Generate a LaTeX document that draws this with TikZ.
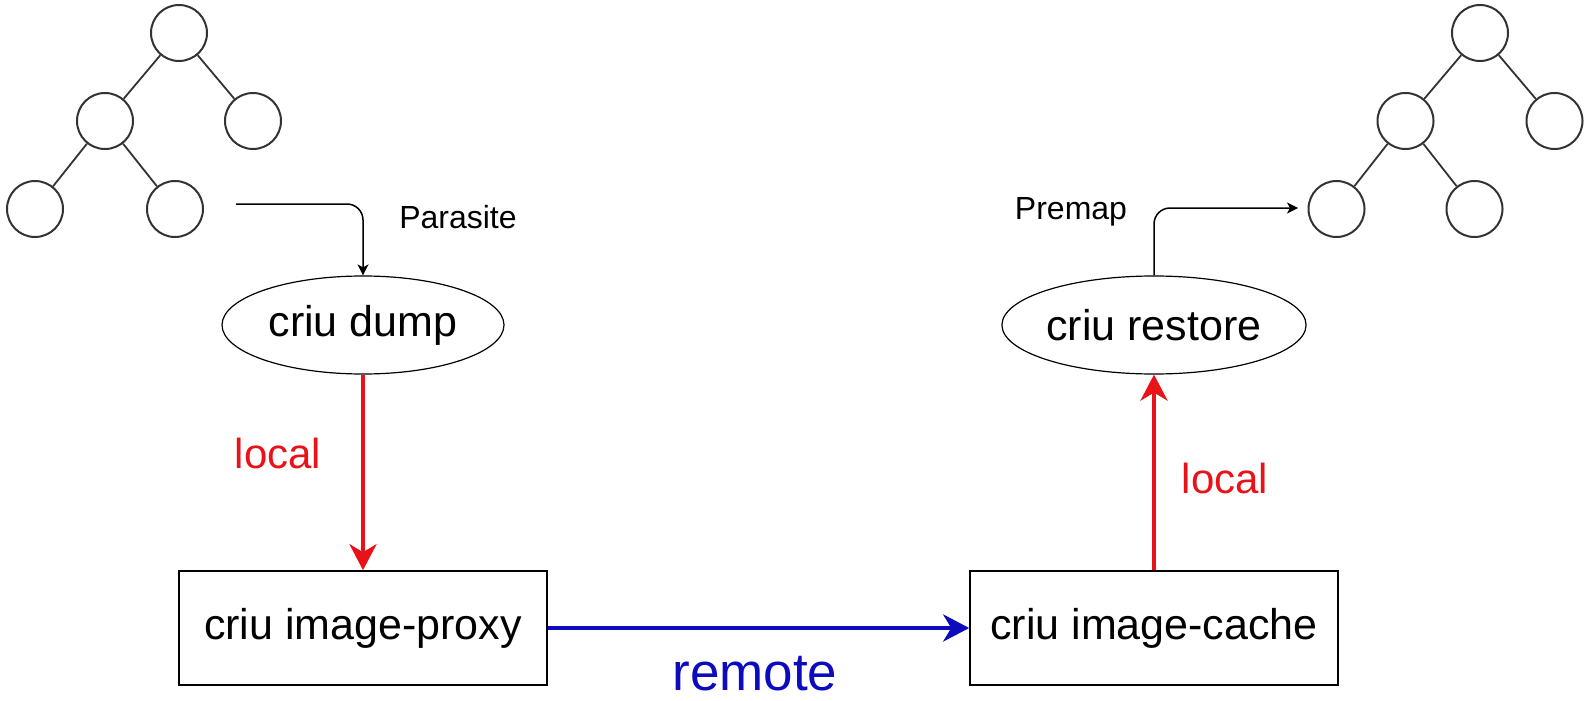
\documentclass[tikz,border=0pt]{standalone}
\usepackage{fontspec}
\setmainfont{Liberation Sans}
\usetikzlibrary{shapes.geometric,arrows.meta}
\definecolor{localred}{RGB}{232,18,24}
\definecolor{remoteblue}{RGB}{12,12,190}
\tikzset{
  tnode/.style={circle,draw=black!80,line width=1pt,minimum size=28pt,inner sep=0pt},
  proc/.style={ellipse,draw,line width=0.6pt,minimum width=141pt,minimum height=49pt,inner sep=0pt,font=\fontsize{21.5}{26}\selectfont},
  srv/.style={rectangle,draw,line width=0.8pt,minimum width=184pt,minimum height=57pt,inner sep=0pt,font=\fontsize{21.5}{26}\selectfont},
  small/.style={font=\fontsize{16}{19}\selectfont},
  redarr/.style={localred,line width=2.2pt,-{Stealth[length=13pt,width=13.5pt,inset=4pt]}},
  bluearr/.style={remoteblue,line width=2.2pt,-{Stealth[length=13pt,width=13.5pt,inset=4pt]}},
  thinarr/.style={line width=0.75pt,rounded corners=8pt,-{Stealth[length=5.5pt,width=5.5pt,inset=1.5pt]}}
}
\begin{document}
\begin{tikzpicture}
[x=0.5pt,y=-0.5pt,level distance=44pt,edge from parent/.style={draw,black!80,line width=0.9pt}]
\useasboundingbox (0,0) rectangle (1585,701);
% process trees
\node[tnode] (ltree) at (179,33) {}
  [sibling distance=74pt]
  child {node[tnode] {}
    [sibling distance=70pt]
    child {node[tnode] {}}
    child {node[tnode] {}}
  }
  child {node[tnode] {}};
\node[tnode] (rtree) at (1480,33) {}
  [sibling distance=74.5pt]
  child {node[tnode] {}
    [sibling distance=69pt]
    child {node[tnode] {}}
    child {node[tnode] {}}
  }
  child {node[tnode] {}};
% criu parts
\node[proc] (dump) at (363,325) {criu dump};
\node[proc] (restore) at (1154,325) {criu restore};
\node[srv] (proxy) at (363,628) {criu image-proxy};
\node[srv] (cache) at (1154,628) {criu image-cache};
% connectors
\coordinate (pstart) at (236,204);
\coordinate (pend) at (1298,208);
\draw[thinarr] (pstart) -| (dump.north);
\draw[thinarr] (restore.north) |- (pend);
\draw[redarr] (dump) -- (proxy);
\draw[redarr] (cache) -- (restore);
\draw[bluearr] (proxy) -- (cache);
% labels
\node[small] (parasite) at (458,217) {Parasite};
\node[small] (premap) at (1071,212) {Premap};
\node[localred,font=\fontsize{21}{25}\selectfont] (llocal) at (278,453) {local};
\node[localred,font=\fontsize{21}{25}\selectfont] (rlocal) at (1225,478) {local};
\node[remoteblue,inner sep=0pt,font=\fontsize{26.5}{31}\selectfont] (remote) at (755,674) {remote};
\end{tikzpicture}
\end{document}
